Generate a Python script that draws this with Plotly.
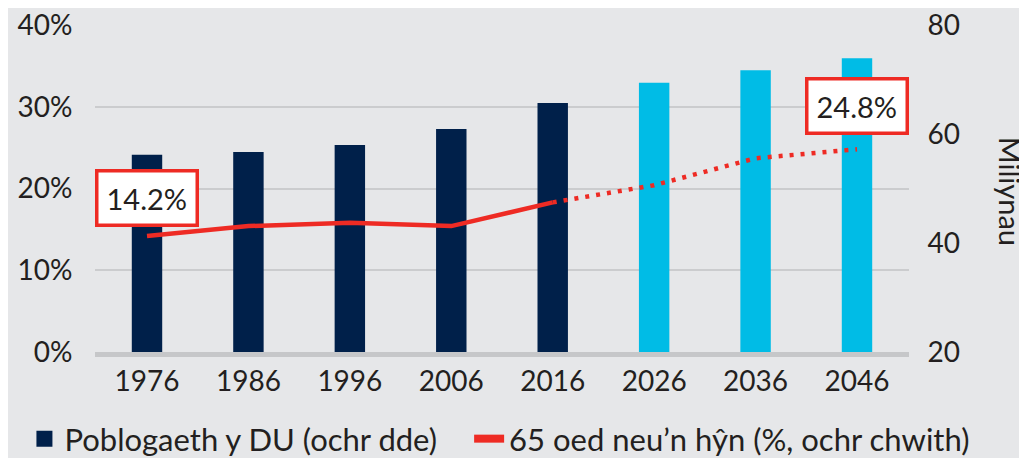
import plotly.graph_objects as go

years = ["1976", "1986", "1996", "2006", "2016", "2026", "2036", "2046"]
population_m = [56.2, 56.7, 58.0, 60.9, 65.7, 69.4, 71.7, 73.9]
bar_colors = ["#00204A"] * 5 + ["#00BCE6"] * 3
pct_hist_years = ["1976", "1986", "1996", "2006", "2016"]
pct_hist = [14.2, 15.4, 15.8, 15.4, 18.3]
pct_proj_years = ["2016", "2026", "2036", "2046"]
pct_proj = [18.3, 20.4, 23.7, 24.8]
legend_names = ["Poblogaeth y DU (ochr dde)", "65 oed neu\u2019n h\u0177n (%, ochr chwith)"]

FONT = "Lato"
TXT = "#231F20"
RED = "#EE2B24"
NAVY = "#00204A"
BG = "#E6E7E9"
TICK = dict(size=28, color=TXT)

fig = go.Figure()
fig.add_trace(go.Bar(
    x=years, y=population_m, yaxis="y", marker=dict(color=bar_colors, line=dict(width=0)),
    name=legend_names[0], showlegend=False,
))
fig.add_trace(go.Scatter(
    x=pct_hist_years, y=pct_hist, yaxis="y2", mode="lines",
    line=dict(color=RED, width=4.5), name=legend_names[1], showlegend=False,
))
fig.add_trace(go.Scatter(
    x=pct_proj_years, y=pct_proj, yaxis="y2", mode="lines",
    line=dict(color=RED, width=4.5, dash="4px,7px"), showlegend=False,
))
# legend-only entries (no data)
fig.add_trace(go.Scatter(
    x=[None], y=[None], yaxis="y", mode="markers", name=legend_names[0],
    marker=dict(symbol="square", size=22, color=NAVY), legend="legend",
))
fig.add_trace(go.Scatter(
    x=[None], y=[None], yaxis="y2", mode="lines", name=legend_names[1],
    line=dict(color=RED, width=8), legend="legend2",
))

LEG = dict(orientation="h", xref="container", yref="container", xanchor="left",
           y=-0.002, yanchor="bottom", font=dict(size=31, color=TXT), bgcolor="rgba(0,0,0,0)")

fig.update_layout(
    width=1027, height=458,
    margin=dict(l=87, r=126, t=17, b=114, autoexpand=False),
    paper_bgcolor=BG, plot_bgcolor=BG,
    font=dict(family=FONT, size=28, color=TXT),
    bargap=0.7,
    xaxis=dict(type="category", categoryorder="array", categoryarray=years, automargin=False,
               showgrid=False, showline=True, linecolor="#C6C7C9", linewidth=5,
               ticks="", tickfont=TICK),
    yaxis=dict(side="right", range=[20, 80], dtick=20, showgrid=False, zeroline=False, automargin=False,
               tickfont=TICK, ticks="outside", ticklen=12, tickcolor="rgba(0,0,0,0)",
               ticklabeloverflow="allow"),
    yaxis2=dict(overlaying="y", side="left", range=[0, 40], dtick=10, ticksuffix="%", automargin=False,
                showgrid=True, gridcolor="#CBCCCE", gridwidth=2, zeroline=False,
                tickfont=TICK, ticks="outside", ticklen=16, tickcolor="rgba(0,0,0,0)",
                ticklabeloverflow="allow"),
    legend=dict(LEG, x=0.016),
    legend2=dict(LEG, x=0.449),
    showlegend=True,
)

fig.add_annotation(x=years.index(pct_hist_years[0]), y=pct_hist[0], xref="x", yref="y2", yshift=38,
                   showarrow=False, text=f"{pct_hist[0]}%", font=dict(size=29, color=TXT), bgcolor="white",
                   bordercolor=RED, borderwidth=3.5, borderpad=8)
fig.add_annotation(x=years.index(pct_proj_years[-1]), y=pct_proj[-1], xref="x", yref="y2", yshift=43,
                   showarrow=False, text=f"{pct_proj[-1]}%", font=dict(size=29, color=TXT), bgcolor="white",
                   bordercolor=RED, borderwidth=3.5, borderpad=8)
fig.add_annotation(x=1.124, y=0.49, xref="paper", yref="paper", showarrow=False,
                   xanchor="center", yanchor="middle",
                   text="Miliynau", textangle=90, font=dict(size=29, color=TXT))

fig.write_html("out.html")
